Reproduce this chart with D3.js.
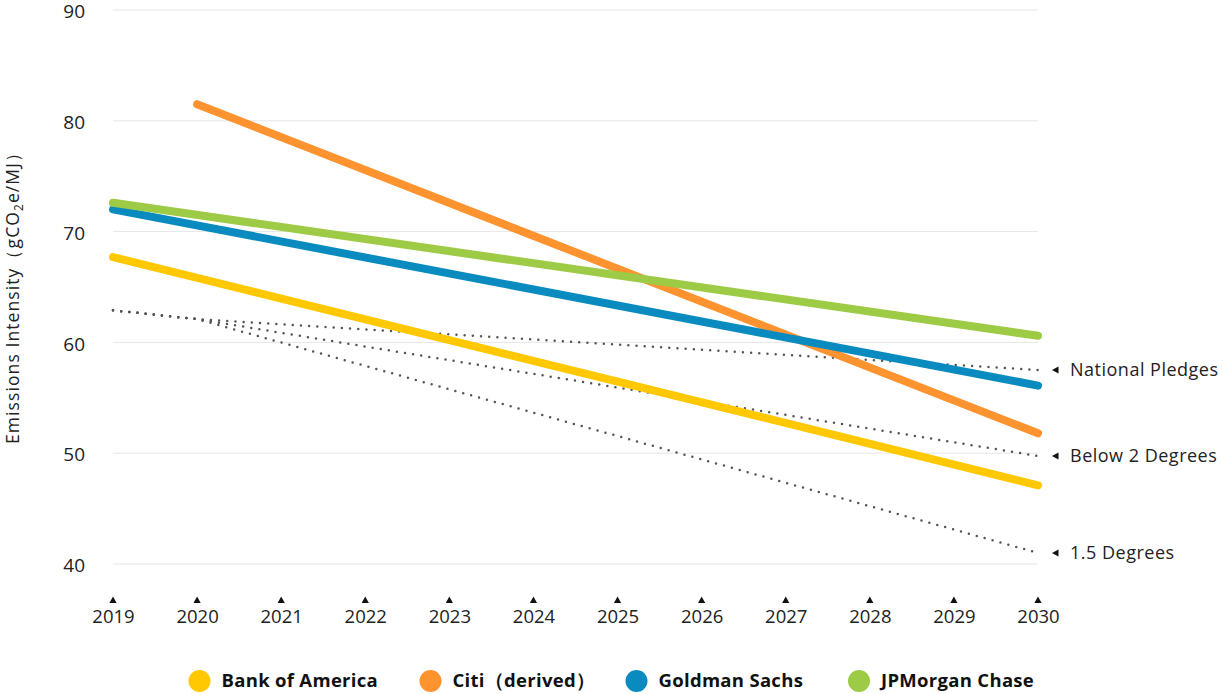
<!DOCTYPE html>
<html>
<head>
<meta charset="utf-8">
<script src="https://cdn.jsdelivr.net/npm/d3@7"></script>
<style>
  html, body { margin: 0; padding: 0; background: #fff; }
  svg { display: block; font-family: "Open Sans", "Noto Sans", sans-serif; }
</style>
</head>
<body>
<svg id="chart" width="1223" height="694"></svg>
<script>
const years = [2019, 2020, 2021, 2022, 2023, 2024, 2025, 2026, 2027, 2028, 2029, 2030];
const yTicks = [40, 50, 60, 70, 80, 90];

const bankNames = ["Bank of America", "Citi\uFF08derived\uFF09", "Goldman Sachs", "JPMorgan Chase"];
const bankColors = ["#FFC800", "#FF9330", "#0A8BC0", "#9DCB45"];
const bofaValues = [[2019, 67.7], [2030, 47.1]];
const citiValues = [[2020, 81.5], [2030, 51.8]];
const gsValues = [[2019, 72.0], [2030, 56.1]];
const jpmValues = [[2019, 72.6], [2030, 60.6]];

const scenarioNames = ["National Pledges", "Below 2 Degrees", "1.5 Degrees"];
const pledgesValues = [[2019, 62.9], [2020, 62.1], [2030, 57.5]];
const below2Values = [[2019, 62.9], [2020, 62.1], [2030, 49.75]];
const onePointFiveValues = [[2019, 62.9], [2020, 62.1], [2030, 41.0]];

const svg = d3.select("#chart");
const x = d3.scaleLinear().domain([2019, 2030]).range([113, 1038]);
const y = d3.scaleLinear().domain([40, 90]).range([564, 10]);

// gridlines
svg.append("g").selectAll("line").data(yTicks).join("line")
  .attr("x1", x(2019)).attr("x2", x(2030))
  .attr("y1", d => y(d)).attr("y2", d => y(d))
  .attr("stroke", "#e6e6e6").attr("stroke-width", 1);

// y tick labels
const yAxis = d3.axisLeft(y).tickValues(yTicks).tickSize(0).tickPadding(0);
const yg = svg.append("g").attr("transform", "translate(85,1)").call(yAxis);
yg.select(".domain").remove();
yg.selectAll("text").attr("font-size", 19).attr("fill", "#222")
  .attr("font-family", "'Open Sans', 'Noto Sans', sans-serif").attr("dy", "0.35em");

// y title
const yt = svg.append("text")
  .attr("transform", `translate(19,294) rotate(-90)`)
  .attr("text-anchor", "middle").attr("font-size", 17.5).attr("fill", "#222")
  .attr("textLength", 300).attr("lengthAdjust", "spacing");
yt.append("tspan").text("Emissions Intensity\uFF08gCO");
yt.append("tspan").text("2").attr("font-size", 12).attr("dy", 4);
yt.append("tspan").text("e/MJ\uFF09").attr("dy", -4);

// x axis
const xAxis = d3.axisBottom(x).tickValues(years).tickFormat(d3.format("d")).tickSize(0).tickPadding(0);
const xg = svg.append("g").attr("transform", "translate(0,617)").call(xAxis);
xg.select(".domain").remove();
xg.selectAll("text").attr("font-size", 18.5).attr("fill", "#222").attr("dy", "0.35em")
  .attr("font-family", "'Open Sans', 'Noto Sans', sans-serif");
svg.append("g").selectAll("path").data(years).join("path")
  .attr("d", d => `M${x(d) - 3.6},603 L${x(d) + 3.6},603 L${x(d)},596.5 Z`)
  .attr("fill", "#111");

const line = d3.line().x(d => x(d[0])).y(d => y(d[1]));

// scenario dotted lines
const scenarios = [pledgesValues, below2Values, onePointFiveValues];
svg.append("g").selectAll("path").data(scenarios).join("path")
  .attr("d", line).attr("fill", "none")
  .attr("stroke", "#555").attr("stroke-width", 2.5)
  .attr("stroke-linecap", "round").attr("stroke-dasharray", "0,8.2");

// bank lines
const banks = [bofaValues, citiValues, gsValues, jpmValues];
svg.append("g").selectAll("path").data(banks).join("path")
  .attr("d", line).attr("fill", "none")
  .attr("stroke", (d, i) => bankColors[i]).attr("stroke-width", 8)
  .attr("stroke-linecap", "round");

// scenario labels
const sl = svg.append("g").selectAll("g").data(scenarios).join("g")
  .attr("transform", d => `translate(0,${y(d[d.length - 1][1])})`);
sl.append("path").attr("d", "M1052,0 L1058.5,-3.5 L1058.5,3.5 Z").attr("fill", "#111");
sl.append("text").attr("x", 1070).attr("dy", "0.35em").attr("font-size", 18).attr("fill", "#222")
  .attr("letter-spacing", 0.5)
  .text((d, i) => scenarioNames[i]);

// legend
const legendX = [199.5, 430.5, 636.5, 859];
const lg = svg.append("g").selectAll("g").data(bankNames).join("g")
  .attr("transform", (d, i) => `translate(${legendX[i]},681)`);
lg.append("circle").attr("r", 11).attr("fill", (d, i) => bankColors[i]);
lg.append("text").attr("x", 22).attr("dy", "0.35em").attr("font-size", 18.5).attr("font-weight", 700)
  .attr("letter-spacing", 0.3)
  .attr("fill", "#111").text(d => d);
</script>
</body>
</html>
